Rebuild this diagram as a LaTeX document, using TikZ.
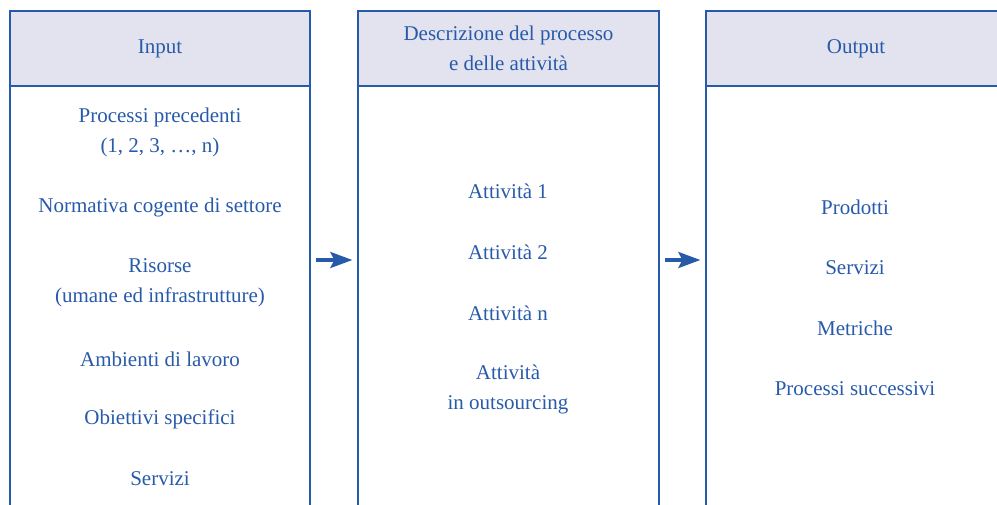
\documentclass[tikz,border=0pt]{standalone}
\usepackage{fontspec}
\setmainfont{Liberation Serif}
\usepackage{tikz}
\usetikzlibrary{arrows.meta}
\definecolor{dblue}{RGB}{40,90,170}
\definecolor{headfill}{RGB}{227,227,240}
\newcommand\colfont{\fontsize{21}{30}\selectfont}
\tikzstyle{colbox}=[draw=dblue,line width=1.3pt,minimum width=300pt,minimum height=498pt,inner sep=0pt]
\tikzstyle{colhead}=[colbox,fill=headfill,minimum height=75pt,text=dblue,align=center,font=\colfont]
\tikzstyle{lbl}=[text=dblue,align=center,font=\colfont,inner sep=0pt]
\tikzstyle{flow}=[line width=3.2pt,draw=dblue,-{Stealth[length=22pt,width=16pt,inset=4pt]},shorten <=5pt,shorten >=5pt]

\begin{document}
\begin{tikzpicture}[x=1pt,y=-1pt]
  \useasboundingbox (0,0) rectangle (997,504);
  \clip (0,0) rectangle (997,504);
  % columns
  \node[colbox] (incol)  at (160,260) {};
  \node[colbox,minimum width=301pt] (actcol) at (508.5,260) {};
  \node[colbox] (outcol) at (856,260) {};
  \node[colhead] (inhead)  at (160,48.5) {Input};
  \node[colhead,minimum width=301pt] (acthead) at (508.5,48.5) {Descrizione del processo\\e delle attività};
  \node[colhead] (outhead) at (856,48.5) {Output};
  % input
  \node[lbl] (in1) at (160,132) {Processi precedenti\\(1, 2, 3, …, n)};
  \node[lbl] (in2) at (160,207) {Normativa cogente di settore};
  \node[lbl] (in3) at (160,283) {Risorse\\(umane ed infrastrutture)};
  \node[lbl] (in4) at (160,359) {Ambienti di lavoro};
  \node[lbl] (in5) at (160,419) {Obiettivi specifici};
  \node[lbl] (in6) at (160,479) {Servizi};
  % attivita
  \node[lbl] (act1) at (508,191) {Attività 1};
  \node[lbl] (act2) at (508,252) {Attività 2};
  \node[lbl] (act3) at (508,313) {Attività n};
  \node[lbl] (act4) at (508,389) {Attività\\in outsourcing};
  % output
  \node[lbl] (out1) at (855,207) {Prodotti};
  \node[lbl] (out2) at (855,268) {Servizi};
  \node[lbl] (out3) at (855,328) {Metriche};
  \node[lbl] (out4) at (855,389) {Processi successivi};
  % arrows
  \draw[flow] (incol) -- (actcol);
  \draw[flow] (actcol) -- (outcol);
\end{tikzpicture}
\end{document}
